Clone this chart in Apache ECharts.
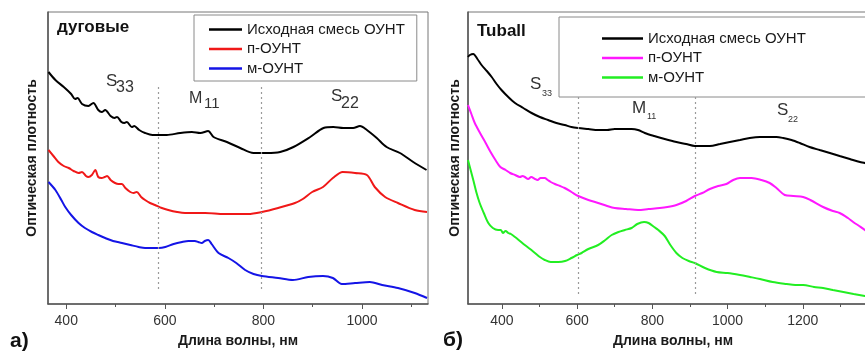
<!DOCTYPE html>
<html>
<head>
<meta charset="utf-8">
<script src="https://cdn.jsdelivr.net/npm/echarts@6/dist/echarts.min.js"></script>
<style>
html,body{margin:0;padding:0;width:865px;height:354px;overflow:hidden;background:#fff;}
#a{position:absolute;left:0;top:0;width:440px;height:354px;}
#b{position:absolute;left:432px;top:0;width:450px;height:354px;}
</style>
</head>
<body>
<div id="a"></div>
<div id="b"></div>
<script>
// ---------- data (wavelength nm, optical density in arbitrary units) ----------
const seriesNames = ['Исходная смесь ОУНТ', 'п-ОУНТ', 'м-ОУНТ'];
const xTicksA = [400, 600, 800, 1000];
const xMinorA = [500, 700, 900, 1100];
const xTicksB = [400, 600, 800, 1000, 1200];
const xMinorB = [500, 700, 900, 1100, 1300];
const regionLinesA = [587, 796];
const regionLinesB = [602, 915];

const arcMix = [[364,232],[378,224],[395,217],[410,210],[418,205],[423,206],[432,200],[445,198],[455,201],[465,194],[472,192],[479,194],[490,188],[498,186],[503,187],[512,182],[518,181],[523,182],[533,177],[538,178],[548,174],[560,171],[575,169],[584,169],[604,169],[631,171],[655,172],[672,171],[688,173],[699,167],[726,162],[753,156],[780,151],[807,151],[834,152],[861,157],[895,167],[922,176],[942,177],[962,176],[982,176],[996,178],[1010,174],[1030,166],[1050,157],[1077,151],[1104,142],[1131,134]];
const arcSemi = [[364,154],[374,148],[384,142],[395,138],[405,136],[415,133],[425,131],[432,132],[440,128],[445,127],[452,129],[459,134],[465,127],[472,126],[478,127],[483,128],[490,124],[499,121],[506,120],[513,120],[520,116],[530,112],[537,111],[543,112],[552,107],[560,104],[570,101],[580,99],[594,96],[607,94],[625,92],[641,91],[682,91],[720,90],[743,90],[769,90],[797,92],[830,96],[864,101],[880,105],[899,112],[921,117],[941,126],[961,132],[986,131],[1010,129],[1026,117],[1047,107],[1073,101],[1107,94],[1132,92]];
const arcMetal = [[364,122],[378,114],[390,104],[398,97],[410,89],[425,81],[438,76],[452,72],[465,69],[479,66],[495,63],[513,61],[530,59],[547,57],[560,56],[574,56],[588,56],[601,57],[618,60],[635,62],[648,63],[661,63],[668,62],[675,61],[681,63],[688,64],[695,60],[709,51],[729,46],[745,41],[763,34],[780,30],[797,28],[830,26],[860,24],[891,27],[921,28],[941,26],[959,20],[986,21],[1016,22],[1041,19],[1073,16],[1107,11],[1132,6]];

const tubMix = [[310,247],[315,249],[324,250],[335,245],[346,239],[360,233],[373,227],[386,220],[399,214],[417,207],[435,201],[457,196],[479,191],[501,187],[523,184],[545,181],[567,179],[585,177],[603,176],[630,175],[656,174],[680,174],[700,175],[722,175],[745,175],[762,174],[780,171],[805,168],[833,165],[864,162],[890,160],[913,158],[933,158],[953,158],[980,160],[1006,162],[1033,164],[1059,166],[1086,167],[1112,167],[1130,167],[1148,166],[1170,164],[1192,161],[1218,157],[1245,154],[1272,151],[1298,148],[1325,145],[1352,142],[1365,141],[1380,139],[1400,137]];
const tubSemi = [[310,199],[319,190],[328,181],[342,171],[357,161],[370,152],[383,144],[396,137],[410,134],[422,131],[435,129],[448,127],[455,128],[461,127],[470,125],[478,127],[488,125],[495,124],[503,126],[514,126],[522,124],[530,122],[541,120],[555,118],[567,116],[585,112],[603,108],[630,104],[656,101],[680,98],[700,96],[730,95],[762,94],[790,95],[820,96],[840,97],[864,99],[890,103],[913,108],[933,111],[953,115],[975,118],[997,120],[1015,124],[1033,126],[1050,126],[1064,126],[1090,124],[1112,121],[1130,116],[1152,109],[1175,108],[1201,107],[1220,104],[1254,97],[1280,93],[1298,91],[1320,86],[1334,82],[1350,78],[1365,74],[1380,69],[1400,63]];
const tubMetal = [[310,144],[317,134],[324,124],[332,112],[341,101],[352,91],[364,81],[376,76],[390,74],[397,74],[403,71],[410,73],[417,71],[424,70],[435,67],[448,63],[461,59],[475,55],[488,51],[501,47],[514,44],[530,42],[550,42],[568,43],[585,46],[600,49],[612,51],[630,55],[656,59],[675,64],[692,69],[710,72],[727,74],[745,76],[760,80],[778,82],[790,81],[805,77],[816,74],[833,68],[848,59],[864,51],[880,46],[897,43],[913,41],[940,36],[971,32],[1000,31],[1033,29],[1060,27],[1086,25],[1120,22],[1157,20],[1180,19],[1201,19],[1230,17],[1254,16],[1280,14],[1308,12],[1335,10],[1365,8],[1380,7],[1400,6]];

const colorsA = ['#000000', '#f01818', '#1414e6'];
const colorsB = ['#000000', '#ff18ff', '#22ee22'];

const FONT = '"Liberation Sans", Arial, sans-serif';

function buildOption(cfg) {
  const mk = (name, data, color, withLines) => {
    const s = {
      name, type: 'line', data, symbol: 'none', showSymbol: false, smooth: 0.3,
      xAxisIndex: 0, yAxisIndex: 0,
      lineStyle: {color, width: 2}, itemStyle: {color},
      z: 3
    };
    if (withLines) {
      s.markLine = {
        silent: true, symbol: 'none', label: {show: false},
        lineStyle: {color: '#9a9a9a', type: [2, 3], width: 1.2},
        data: cfg.lines.map(v => [{coord: [v, cfg.lineTop]}, {coord: [v, cfg.lineBottom]}])
      };
    }
    return s;
  };
  return {
    animation: false,
    textStyle: {fontFamily: FONT},
    grid: {left: cfg.gridLeft, top: 12, width: cfg.gridWidth, height: 292, show: true,
           borderColor: '#777', borderWidth: 1, containLabel: false},
    legend: {
      orient: 'vertical', left: cfg.legLeft, top: cfg.legTop,
      padding: cfg.legPad, itemWidth: cfg.legItemW, itemHeight: 2.5, itemGap: 5.5,
      icon: 'rect',
      borderColor: '#8a8a8a', borderWidth: 1, backgroundColor: '#fff',
      textStyle: {fontSize: 15, lineHeight: 14, color: '#1a1a1a', fontFamily: FONT},
      data: seriesNames
    },
    xAxis: [{
      type: 'value', min: cfg.xmin, max: cfg.xmax,
      name: 'Длина волны, нм', nameLocation: 'middle', nameGap: 30,
      nameTextStyle: {fontSize: 14, fontWeight: 'bold', color: '#1a1a1a', fontFamily: FONT},
      axisLine: {show: true, lineStyle: {color: '#555', width: 1.5}},
      axisTick: {show: true, inside: false, length: 5, lineStyle: {color: '#555'}, customValues: cfg.ticks},
      axisLabel: {fontSize: 14, color: '#333', margin: 10, customValues: cfg.ticks, formatter: v => String(v)},
      splitLine: {show: false}
    }, {
      type: 'value', min: cfg.xmin, max: cfg.xmax, gridIndex: 0, position: 'bottom',
      axisLine: {show: false},
      axisTick: {show: true, inside: false, length: 3, lineStyle: {color: '#555'}, customValues: cfg.minor},
      axisLabel: {show: false},
      splitLine: {show: false}
    }],
    yAxis: {
      type: 'value', min: 0, max: 292,
      name: 'Оптическая плотность', nameLocation: 'middle', nameGap: cfg.yNameGap,
      nameTextStyle: {fontSize: 14, fontWeight: 'bold', color: '#1a1a1a', fontFamily: FONT},
      axisLine: {show: true, lineStyle: {color: '#555', width: 1.5}},
      axisTick: {show: false}, axisLabel: {show: false}, splitLine: {show: false}
    },
    series: [
      mk(seriesNames[0], cfg.data[0], cfg.colors[0], true),
      mk(seriesNames[1], cfg.data[1], cfg.colors[1], false),
      mk(seriesNames[2], cfg.data[2], cfg.colors[2], false)
    ],
    graphic: cfg.graphic
  };
}

function txt(x, y, text, size, bold, color) {
  return {type: 'text', left: x, top: y - size * 0.6, z: 10,
    style: {text, fontSize: size, fontWeight: bold ? 'bold' : 'normal', fill: color || '#1a1a1a', fontFamily: FONT}};
}

const chartA = echarts.init(document.getElementById('a'), null, {renderer: 'canvas'});
const optA = buildOption({
  gridLeft: 48, gridWidth: 380, xmin: 363, xmax: 1134,
  ticks: xTicksA, minor: xMinorA, lines: regionLinesA, lineTop: 217, lineBottom: 15,
  legLeft: 194, legTop: 15, legPad: [7, 12, 5, 15], legItemW: 33, yNameGap: 9,
  data: [arcMix, arcSemi, arcMetal], colors: colorsA,
  graphic: [
    txt(57, 29, 'дуговые', 17, true, '#111'),
    txt(10, 343, 'а)', 21, true, '#111'),
    txt(106, 83, 'S', 17, false, '#333'), txt(116, 89, '33', 16, false, '#333'),
    txt(189, 100, 'M', 16, false, '#333'), txt(204, 105, '11', 15, false, '#333'),
    txt(331, 98, 'S', 17, false, '#333'), txt(341, 105, '22', 16, false, '#333')
  ]
});
optA.legend.itemGap = 4.5;
chartA.setOption(optA);

const chartB = echarts.init(document.getElementById('b'), null, {renderer: 'canvas'});
const optB = buildOption({
  gridLeft: 36, gridWidth: 410, xmin: 310, xmax: 1400,
  ticks: xTicksB, minor: xMinorB, lines: regionLinesB, lineTop: 207, lineBottom: 7,
  legLeft: 127, legTop: 17, legPad: [14, 70, 12, 43], legItemW: 41, yNameGap: 6,
  data: [tubMix, tubSemi, tubMetal], colors: colorsB,
  graphic: [
    txt(45, 33, 'Tuball', 17, true, '#111'),
    txt(11, 342, 'б)', 21, true, '#111'),
    txt(98, 86, 'S', 17, false, '#333'), txt(110, 94, '33', 9, false, '#333'),
    txt(200, 110, 'M', 17, false, '#333'), txt(215, 117, '11', 9, false, '#333'),
    txt(345, 112, 'S', 17, false, '#333'), txt(356, 120, '22', 9, false, '#333')
  ]
});
optB.legend.itemGap = 4.5;
chartB.setOption(optB);
</script>
</body>
</html>
